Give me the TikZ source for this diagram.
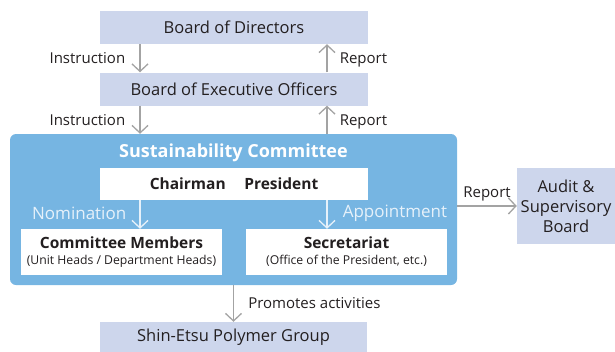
\documentclass[tikz,border=0pt]{standalone}
\usepackage{fontspec}
\setmainfont{Open Sans}
\usetikzlibrary{arrows.meta, positioning}
\definecolor{lavbox}{HTML}{CDD6EC}
\definecolor{scblue}{HTML}{76B5E2}
\definecolor{arrgray}{HTML}{A3A3A3}
\definecolor{txtdark}{HTML}{231F20}
\definecolor{paleblue}{HTML}{E6F1FA}

\begin{document}
\begin{tikzpicture}[x=1pt, y=-1pt,
  >={Straight Barb[length=7.5pt, width=16pt, line width=1.3pt]},
  orgbox/.style={fill=lavbox, minimum width=268pt, minimum height=33pt,
    font=\fontsize{16.5}{20}\selectfont, text=txtdark, align=center, inner sep=1pt},
  whitebox/.style={fill=white, minimum width=201pt, minimum height=46pt,
    font=\fontsize{15.5}{18}\selectfont\bfseries, text=txtdark, align=center, inner sep=1pt},
  arr/.style={->, line width=1.5pt, arrgray},
  lbl/.style={font=\fontsize{15}{17}\selectfont, text=txtdark, inner sep=2pt},
  wlbl/.style={font=\fontsize{17}{19}\selectfont, text=paleblue, inner sep=2pt},
]
\useasboundingbox (0,0) rectangle (615,351);

% =============================================
% Top: boards
% =============================================
\node[orgbox] (bod) at (234,27.5) {Board of Directors};
\node[orgbox] (beo) at (234,89) {Board of Executive Officers};

% =============================================
% Sustainability Committee
% =============================================
\node[fill=scblue, rounded corners=6pt, minimum width=447pt, minimum height=151pt]
  (sc) at (233.5,209.5) {};
\node[font=\fontsize{18}{20}\selectfont\bfseries, text=white] (sctitle) at (233.5,153)
  {Sustainability Committee};

\node[orgbox, fill=white, minimum height=32pt, font=\fontsize{15.5}{18}\selectfont\bfseries]
  (chair) at (234,184) {Chairman\hspace{1.2em}President};

\node[whitebox] (members) at (121.5,252)
  {Committee Members\\[-2pt]\normalfont\fontsize{12.2}{14}\selectfont (Unit Heads / Department Heads)};
\node[whitebox] (secr) at (346.5,252)
  {Secretariat\\[-2pt]\normalfont\fontsize{12.2}{14}\selectfont (Office of the President, etc.)};

% =============================================
% Right: audit board, bottom: group
% =============================================
\node[orgbox, minimum width=98pt, minimum height=76pt] (audit) at (566,206)
  {Audit \&\\Supervisory\\Board};
\node[orgbox, minimum width=267pt, minimum height=30pt] (group) at (233.5,337)
  {Shin-Etsu Polymer Group};

% =============================================
% Arrows
% =============================================
\draw[arr] ([xshift=-94pt]bod.south) -- ([xshift=-94pt]beo.north)
  node[lbl, midway, left=12pt] (ins1) {Instruction};
\draw[arr] ([xshift=93pt]beo.north) -- ([xshift=93pt]bod.south)
  node[lbl, midway, right=10pt, yshift=-2pt] (rep1) {Report};
\draw[arr] ([xshift=-94pt]beo.south) -- ([xshift=-94pt]beo.south |- sc.north)
  node[lbl, midway, left=12pt] (ins2) {Instruction};
\draw[arr] ([xshift=93pt]beo.south |- sc.north) -- ([xshift=93pt]beo.south)
  node[lbl, midway, right=10pt, yshift=-2pt] (rep2) {Report};

\draw[arr, paleblue] ([xshift=-94pt]chair.south) -- ([xshift=-94pt]chair.south |- members.north)
  node[wlbl, midway, left=11pt, yshift=1pt] (nom) {Nomination};
\draw[arr, paleblue] ([xshift=93pt]chair.south) -- ([xshift=93pt]chair.south |- secr.north)
  node[wlbl, midway, right=13pt, yshift=1pt] (appt) {Appointment};

\draw[arr] (sc.east |- audit.west) -- (audit.west)
  node[lbl, midway, above=2pt] (rep3) {Report};
\draw[arr] (sc.south) -- (group.north)
  node[lbl, midway, right=12pt] (prom) {Promotes activities};

\end{tikzpicture}
\end{document}
